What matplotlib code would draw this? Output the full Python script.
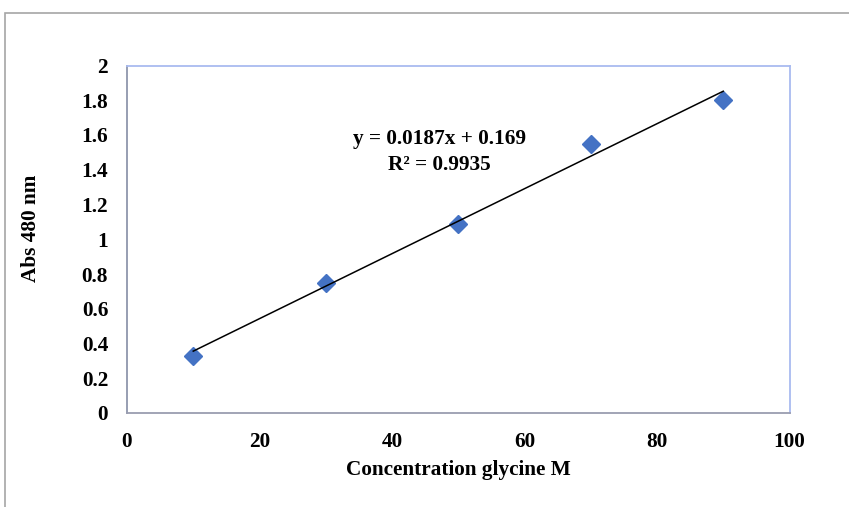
import matplotlib
matplotlib.use("Agg")
import matplotlib.pyplot as plt
from matplotlib.patches import Rectangle
import numpy as np

conc = [10, 30, 50, 70, 90]
absorb = [0.33, 0.75, 1.09, 1.55, 1.80]
x_ticks = [0, 20, 40, 60, 80, 100]
y_ticks = [0, 0.2, 0.4, 0.6, 0.8, 1, 1.2, 1.4, 1.6, 1.8, 2]
y_tick_labels = ["0", "0.2", "0.4", "0.6", "0.8", "1", "1.2", "1.4", "1.6", "1.8", "2"]

plt.rcParams['font.family'] = ['Liberation Serif', 'DejaVu Serif']
plt.rcParams['font.weight'] = 'bold'

FS = 15.3
W, H = 849, 507
fig = plt.figure(figsize=(W / 100, H / 100), dpi=100)
fig.patches.append(Rectangle((5 / W, -0.1), 2.0, 1 - 13 / H + 0.1, transform=fig.transFigure,
                             fill=False, edgecolor='#a6a6a6', linewidth=1.2))

ax = fig.add_axes([127 / W, 1 - 413 / H, (789.5 - 127) / W, (413 - 65.5) / H])

ax.plot(conc, absorb, linestyle='none', marker='D', markersize=9.5,
        color='#4472C4', zorder=3)

slope, intercept = np.polyfit(conc, absorb, 1)
r2 = np.corrcoef(conc, absorb)[0, 1] ** 2
xs = np.array([min(conc), max(conc)])
ax.plot(xs, slope * xs + intercept, color='black', linewidth=1.1, zorder=4)

ax.text(47.2, 1.575, f"y = {slope:.4f}x + {intercept:.3f}", ha='center', va='center',
        fontsize=FS, fontweight='bold')
ax.text(47.2, 1.43, f"R² = {r2:.4f}", ha='center', va='center',
        fontsize=FS, fontweight='bold')

ax.set_xlim(0, 100)
ax.set_ylim(0, 2)
ax.set_xticks(x_ticks)
ax.set_yticks(y_ticks)
ax.set_yticklabels(y_tick_labels)
ax.tick_params(axis='y', length=0, labelsize=FS, pad=13.5)
ax.tick_params(axis='x', length=0, labelsize=FS, pad=13.5)
for lbl in ax.get_xticklabels() + ax.get_yticklabels():
    lbl.set_fontweight('bold')

ax.spines['top'].set_color('#a9bbf0')
ax.spines['right'].set_color('#a9bbf0')
ax.spines['left'].set_color('#8f96ad')
ax.spines['bottom'].set_color('#9a9db0')
for s in ax.spines.values():
    s.set_linewidth(1.3)

fig.text(458 / W, 1 - 469.5 / H, "Concentration glycine M", ha='center', va='center',
         fontsize=FS, fontweight='bold')
fig.text(31 / W, 1 - 228 / H, "Abs 480 nm", ha='center', va='center', rotation=90,
         fontsize=FS, fontweight='bold')

fig.savefig("out.png", dpi=100)
